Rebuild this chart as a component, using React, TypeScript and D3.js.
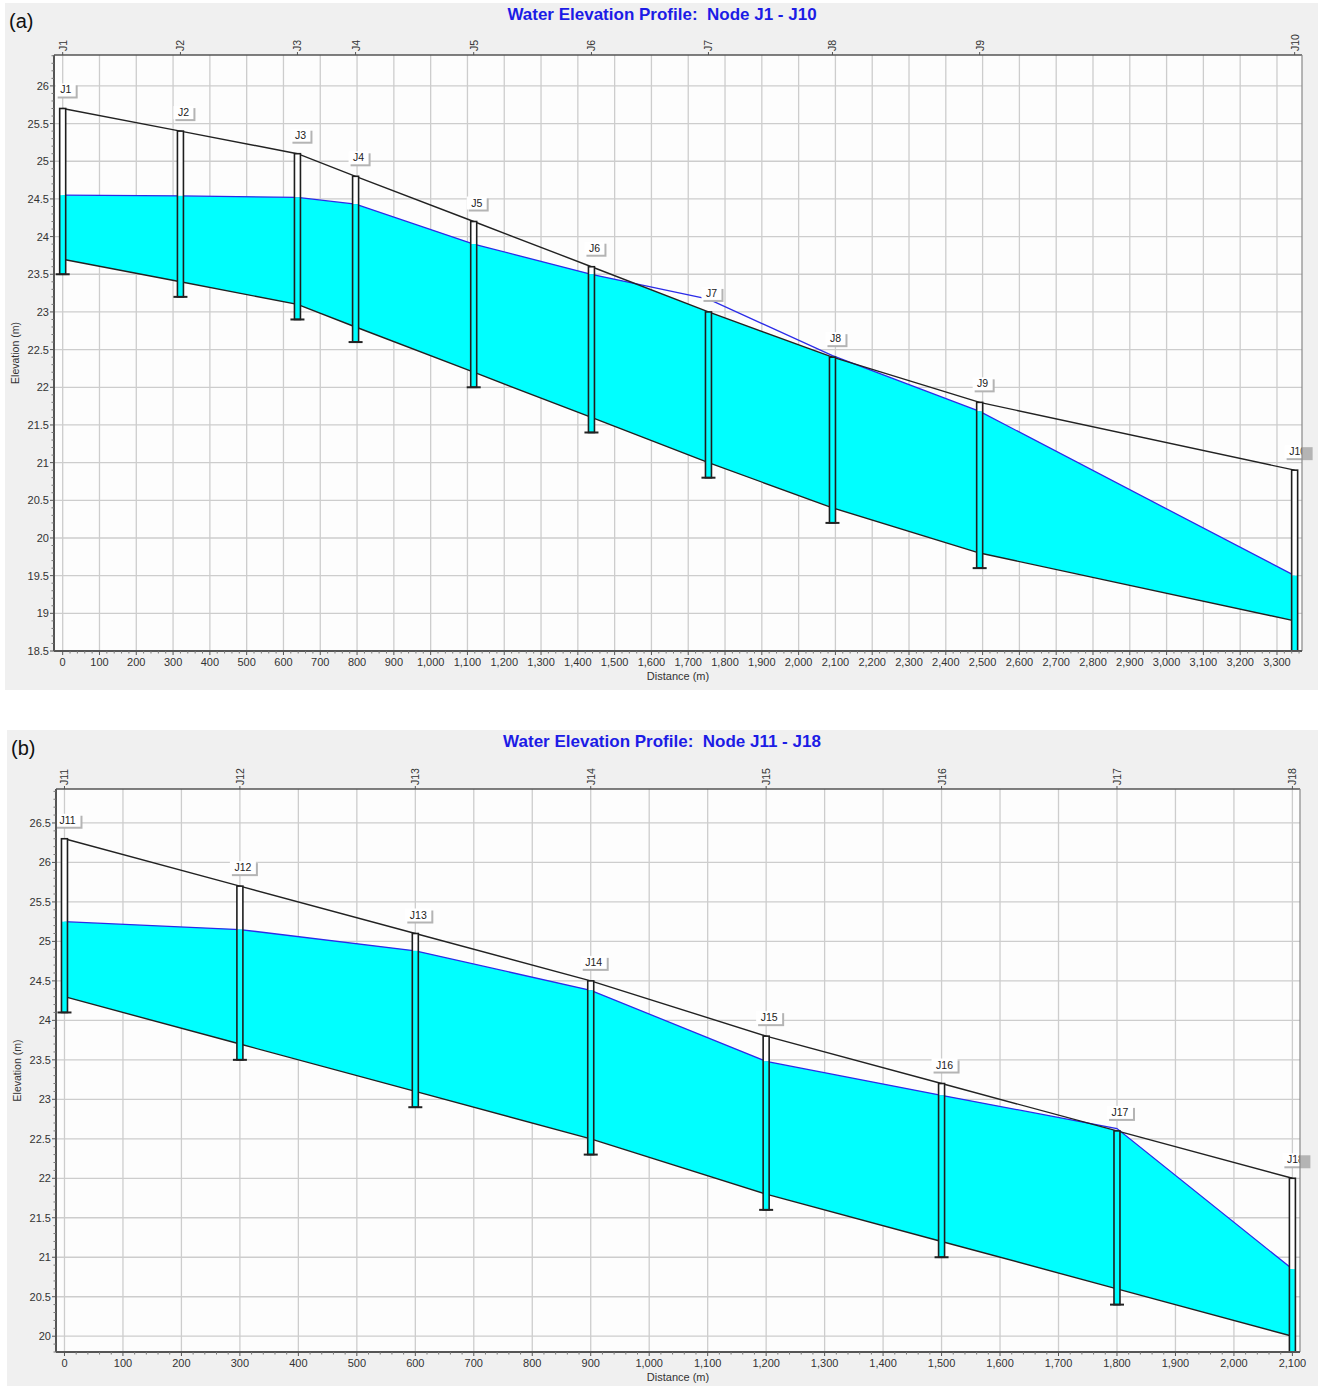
import React from "react";
import * as d3 from "d3";

// panel (a): node J1 - J10
const nodesA = ["J1", "J2", "J3", "J4", "J5", "J6", "J7", "J8", "J9", "J10"];
const distA = [0, 320, 638, 796, 1117, 1437, 1755, 2092, 2492, 3348];
const groundA = [25.7, 25.4, 25.1, 24.8, 24.2, 23.6, 23.0, 22.4, 21.8, 20.9];
const waterA = [24.55, 24.54, 24.52, 24.43, 23.9, 23.5, 23.17, 22.42, 21.68, 19.5];
const invertA = [23.7, 23.4, 23.1, 22.8, 22.2, 21.6, 21.0, 20.4, 19.8, 18.9];
const bottomA = [23.5, 23.2, 22.9, 22.6, 22.0, 21.4, 20.8, 20.2, 19.6, 18.5];

// panel (b): node J11 - J18
const nodesB = ["J11", "J12", "J13", "J14", "J15", "J16", "J17", "J18"];
const distB = [0, 300, 600, 900, 1200, 1500, 1800, 2100];
const groundB = [26.3, 25.7, 25.1, 24.5, 23.8, 23.2, 22.6, 22.0];
const waterB = [25.25, 25.15, 24.88, 24.38, 23.48, 23.05, 22.63, 20.85];
const invertB = [24.3, 23.7, 23.1, 22.5, 21.8, 21.2, 20.6, 20.0];
const bottomB = [24.1, 23.5, 22.9, 22.3, 21.6, 21.0, 20.4, 19.8];

const FONT = "'Liberation Sans', Arial, sans-serif";
const fmtX = d3.format(",");
const fmtY = (v: number) => String(+v.toFixed(1));

function Panel({ id, tag, title, nodes, dist, ground, water, invert, bottom, xDomain, xMax, yDomain, yTicks, box, plot }) {
  const x = d3.scaleLinear().domain(xDomain).range([plot.x0, plot.x1]);
  const y = d3.scaleLinear().domain(yDomain).range([plot.y1, plot.y0]);
  const pts = dist.map((d, i) => ({ d, g: ground[i], w: water[i], v: invert[i], b: bottom[i] }));

  const xTicks = d3.range(0, xMax + 1, 100);
  const xMinor = d3.range(0, xDomain[1], 20).filter(v => v % 100 !== 0);
  const yMinor = d3.range(Math.ceil(yDomain[0] * 10), yDomain[1] * 10).map(v => v / 10).filter(v => Math.round(v * 10) % 5 !== 0);

  const lineG = d3.line<any>().x(p => x(p.d)).y(p => y(p.g));
  const lineW = d3.line<any>().x(p => x(p.d)).y(p => y(p.w));
  const lineV = d3.line<any>().x(p => x(p.d)).y(p => y(p.v));
  const waterArea = d3.area<any>().x(p => x(p.d)).y0(p => y(p.v)).y1(p => y(p.w));
  // region under the ground line, water fill is clipped to it
  const belowGround = d3.area<any>().x(p => x(p.d)).y0(plot.y1 + 20).y1(p => y(p.g));

  const bw = 3;
  const axisCol = "#555";
  const txtCol = "#333";

  return (
    <g>
      <defs>
        <clipPath id={`ground-${id}`}>
          <path d={belowGround(pts) as string} />
        </clipPath>
        <clipPath id={`plot-${id}`}>
          <rect x={plot.x0} y={plot.y0} width={plot.x1 - plot.x0} height={plot.y1 - plot.y0} />
        </clipPath>
      </defs>
      <rect x={box.x} y={box.y} width={box.w} height={box.h} fill="#f0f0f0" />
      <rect x={plot.x0} y={plot.y0} width={plot.x1 - plot.x0} height={plot.y1 - plot.y0} fill="#fdfdfd" />

      {/* grid */}
      {xTicks.map(t => (
        <line key={"gx" + t} x1={x(t)} x2={x(t)} y1={plot.y0} y2={plot.y1} stroke="#cdcdcd" strokeWidth={1.3} />
      ))}
      {yTicks.map(t => (
        <line key={"gy" + t} x1={plot.x0} x2={plot.x1} y1={y(t)} y2={y(t)} stroke="#cdcdcd" strokeWidth={1.3} />
      ))}

      <g clipPath={`url(#ground-${id})`}>
        <path d={waterArea(pts) as string} fill="#00ffff" />
      </g>
      <path d={lineW(pts) as string} fill="none" stroke="#2b2be8" strokeWidth={1.3} />
      <path d={lineG(pts) as string} fill="none" stroke="#222" strokeWidth={1.4} />
      <path d={lineV(pts) as string} fill="none" stroke="#222" strokeWidth={1.4} />

      {/* node shafts */}
      <g clipPath={`url(#plot-${id})`}>
        {pts.map((p, i) => {
          const cx = x(p.d);
          const wl = Math.min(p.w, p.g);
          return (
            <g key={"n" + i}>
              <rect x={cx - bw} y={y(p.g)} width={bw * 2} height={y(wl) - y(p.g)} fill="#fff" />
              <rect x={cx - bw} y={y(wl)} width={bw * 2} height={y(p.b) - y(wl)} fill="#00ffff" />
              <rect x={cx - bw} y={y(p.g)} width={bw * 2} height={y(p.b) - y(p.g)} fill="none" stroke="#1e1e1e" strokeWidth={1.6} />
              <line x1={cx - 7} x2={cx + 7} y1={y(p.b)} y2={y(p.b)} stroke="#222" strokeWidth={2} />
            </g>
          );
        })}
      </g>

      {/* node labels */}
      {pts.map((p, i) => {
        const cx = x(p.d) + 3;
        const w = 8 + nodes[i].length * 6;
        const top = y(p.g) - 25;
        return (
          <g key={"l" + i}>
            <rect x={cx - w / 2 + 2} y={top + 2} width={w} height={13} fill="#b4b4b4" />
            <g clipPath={`url(#plot-${id})`}>
              <rect x={cx - w / 2} y={top} width={w} height={13} fill="#fff" />
              <text x={cx} y={top + 10} textAnchor="middle" fontFamily={FONT} fontSize={10.5} fill="#222">{nodes[i]}</text>
            </g>
          </g>
        );
      })}

      {/* frame */}
      <line x1={plot.x0} x2={plot.x1} y1={plot.y0} y2={plot.y0} stroke={axisCol} strokeWidth={1.5} />
      <line x1={plot.x1} x2={plot.x1} y1={plot.y0} y2={plot.y1} stroke="#888" strokeWidth={1.2} />
      <line x1={plot.x0} x2={plot.x0} y1={plot.y0} y2={plot.y1} stroke={axisCol} strokeWidth={2} />
      <line x1={plot.x0} x2={plot.x1} y1={plot.y1} y2={plot.y1} stroke={axisCol} strokeWidth={2} />

      {/* top axis: node names */}
      {pts.map((p, i) => (
        <g key={"t" + i}>
          <line x1={x(p.d)} x2={x(p.d)} y1={plot.y0 - 3} y2={plot.y0} stroke={axisCol} />
          <text transform={`translate(${x(p.d) + 4},${plot.y0 - 4}) rotate(-90)`} fontFamily={FONT} fontSize={10.5} fill={txtCol}>{nodes[i]}</text>
        </g>
      ))}

      {/* bottom axis */}
      {xTicks.map(t => (
        <g key={"xt" + t}>
          <line x1={x(t)} x2={x(t)} y1={plot.y1} y2={plot.y1 + 4} stroke={axisCol} />
          <text x={x(t)} y={plot.y1 + 15} textAnchor="middle" fontFamily={FONT} fontSize={11} fill={txtCol}>{fmtX(t)}</text>
        </g>
      ))}
      {xMinor.map(t => (
        <line key={"xm" + t} x1={x(t)} x2={x(t)} y1={plot.y1} y2={plot.y1 + 2.5} stroke="#777" />
      ))}
      <text x={(plot.x0 + plot.x1) / 2} y={plot.y1 + 29} textAnchor="middle" fontFamily={FONT} fontSize={11} fill={txtCol}>Distance (m)</text>

      {/* left axis */}
      {yTicks.map(t => (
        <g key={"yt" + t}>
          <line x1={plot.x0 - 4} x2={plot.x0} y1={y(t)} y2={y(t)} stroke={axisCol} />
          <text x={plot.x0 - 5} y={y(t) + 4} textAnchor="end" fontFamily={FONT} fontSize={11} fill={txtCol}>{fmtY(t)}</text>
        </g>
      ))}
      {yMinor.map(t => (
        <line key={"ym" + t} x1={plot.x0 - 2.5} x2={plot.x0} y1={y(t)} y2={y(t)} stroke="#777" />
      ))}
      <text transform={`translate(${box.x + 14},${(plot.y0 + plot.y1) / 2}) rotate(-90)`} textAnchor="middle" fontFamily={FONT} fontSize={10.5} fill={txtCol}>Elevation (m)</text>

      {/* titles */}
      <text x={662} y={box.y + 17} textAnchor="middle" fontFamily={FONT} fontSize={17} fontWeight="bold" fill="#1c1ce6" style={{ whiteSpace: "pre" }}>{title}</text>
      <text x={box.x + 4} y={box.y + 25} fontFamily={FONT} fontSize={20} fill="#111">{tag}</text>
    </g>
  );
}

export default function App() {
  return (
    <>
      <style>{`body{margin:0}`}</style>
      <svg width={1318} height={1386} style={{ display: "block", background: "#fff" }}>
        <Panel
          id="a"
          tag="(a)"
          title="Water Elevation Profile:  Node J1 - J10"
          nodes={nodesA}
          dist={distA}
          ground={groundA}
          water={waterA}
          invert={invertA}
          bottom={bottomA}
          xDomain={[-23.6, 3368]}
          xMax={3300}
          yDomain={[18.5, 26.41]}
          yTicks={d3.range(18.5, 26.01, 0.5)}
          box={{ x: 5, y: 3, w: 1313, h: 687 }}
          plot={{ x0: 54, x1: 1302, y0: 55, y1: 651 }}
        />
        <Panel
          id="b"
          tag="(b)"
          title="Water Elevation Profile:  Node J11 - J18"
          nodes={nodesB}
          dist={distB}
          ground={groundB}
          water={waterB}
          invert={invertB}
          bottom={bottomB}
          xDomain={[-14.5, 2113]}
          xMax={2100}
          yDomain={[19.8, 26.93]}
          yTicks={d3.range(20, 26.51, 0.5)}
          box={{ x: 7, y: 730, w: 1311, h: 656 }}
          plot={{ x0: 56, x1: 1300, y0: 789, y1: 1352 }}
        />
      </svg>
    </>
  );
}
